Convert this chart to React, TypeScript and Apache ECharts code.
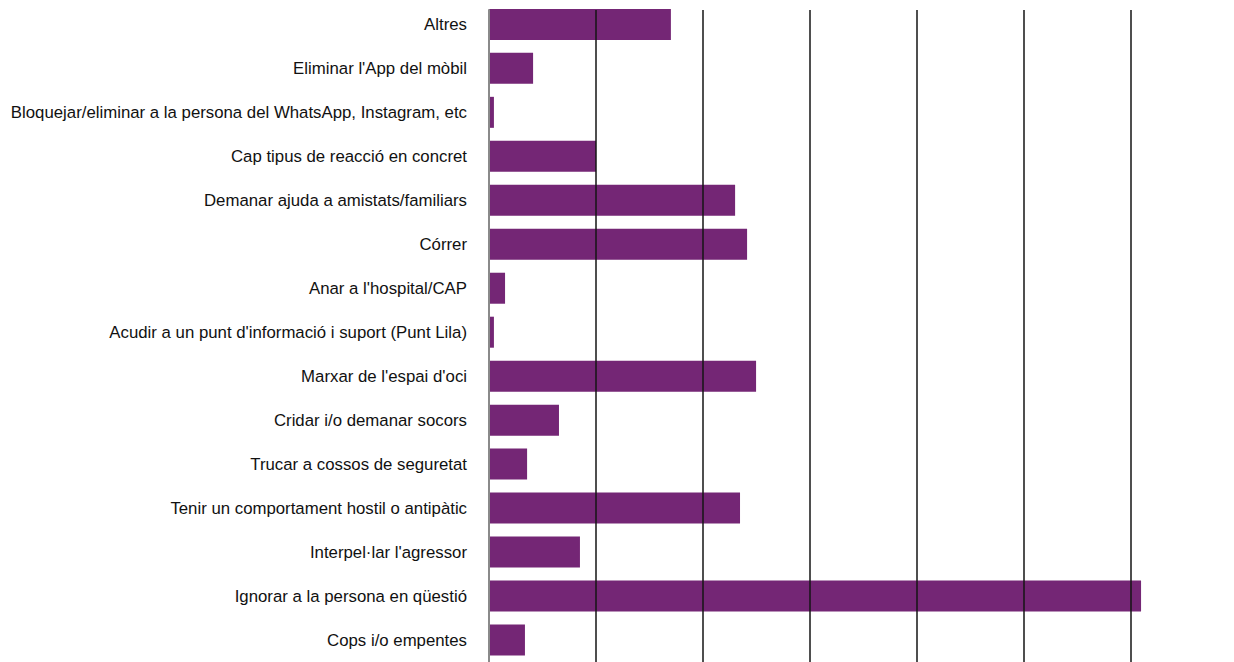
import React, { useEffect, useRef } from "react";
import * as echarts from "echarts";

const categories = [
  "Altres",
  "Eliminar l'App del mòbil",
  "Bloquejar/eliminar a la persona del WhatsApp, Instagram, etc",
  "Cap tipus de reacció en concret",
  "Demanar ajuda a amistats/familiars",
  "Córrer",
  "Anar a l'hospital/CAP",
  "Acudir a un punt d'informació i suport (Punt Lila)",
  "Marxar de l'espai d'oci",
  "Cridar i/o demanar socors",
  "Trucar a cossos de seguretat",
  "Tenir un comportament hostil o antipàtic",
  "Interpel·lar l'agressor",
  "Ignorar a la persona en qüestió",
  "Cops i/o empentes",
];

const values = [8.5, 2.06, 0.23, 5.0, 11.5, 12.06, 0.75, 0.23, 12.48, 3.27, 1.78, 11.73, 4.25, 30.47, 1.68];

const axisMin = 0;
const axisMax = 32;
const axisInterval = 5;

export default function App() {
  const ref = useRef<HTMLDivElement>(null);
  useEffect(() => {
    if (!ref.current) return;
    const chart = echarts.init(ref.current, undefined, { renderer: "svg" });
    const left = 489;
    const width = (642 / 30) * axisMax;
    chart.setOption({
      animation: false,
      backgroundColor: "#ffffff",
      grid: [
        { left, width, top: 2.4, height: 664.2, containLabel: false },
        { left, width, top: 10, bottom: 0, containLabel: false },
      ],
      xAxis: [
        { type: "value", gridIndex: 0, min: axisMin, max: axisMax, interval: axisInterval, show: false },
        {
          type: "value",
          gridIndex: 1,
          min: axisMin,
          max: axisMax,
          interval: axisInterval,
          z: 10,
          axisLine: { show: false },
          axisTick: { show: false },
          axisLabel: { show: false },
          splitLine: {
            show: true,
            showMinLine: false,
            showMaxLine: false,
            lineStyle: { color: "#151515", width: 1.5 },
          },
        },
      ],
      yAxis: [
        {
          type: "category",
          gridIndex: 0,
          data: categories,
          inverse: true,
          axisLine: { show: false },
          axisTick: { show: false },
          splitLine: { show: false },
          axisLabel: {
            margin: 22,
            fontSize: 16.8,
            color: "#111111",
            fontFamily: "Liberation Sans, Arial, sans-serif",
          },
        },
        {
          type: "value",
          gridIndex: 1,
          min: 0,
          max: 1,
          z: 10,
          axisLine: { show: true, lineStyle: { color: "#8a8a8a", width: 2 } },
          axisTick: { show: false },
          axisLabel: { show: false },
          splitLine: { show: false },
        },
      ],
      series: [
        {
          type: "bar",
          xAxisIndex: 0,
          yAxisIndex: 0,
          data: values,
          barWidth: 31,
          itemStyle: { color: "#742675" },
          clip: false,
        },
      ],
    });
    return () => chart.dispose();
  }, []);
  return (
    <div
      ref={ref}
      style={{ position: "fixed", left: 0, top: 0, width: 1234, height: 662, background: "#fff" }}
    />
  );
}
